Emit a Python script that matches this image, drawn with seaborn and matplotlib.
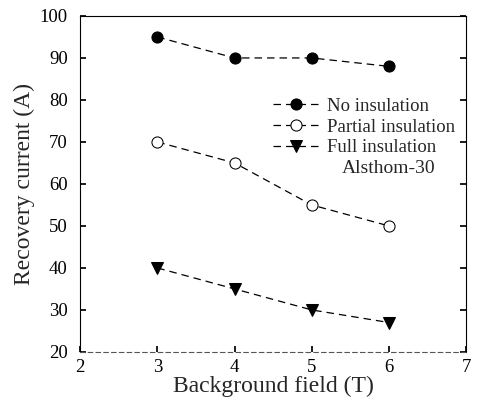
import matplotlib
matplotlib.use("Agg")
import matplotlib.pyplot as plt
import seaborn as sns
import pandas as pd

field = [3, 4, 5, 6]
no_insulation = [95, 90, 90, 88]
partial_insulation = [70, 65, 55, 50]
full_insulation = [40, 35, 30, 27]
series_names = ["No insulation", "Partial insulation", "Full insulation"]
x_ticks = [2, 3, 4, 5, 6, 7]
y_ticks = [20, 30, 40, 50, 60, 70, 80, 90, 100]

sns.set_theme(style="ticks")
plt.rcParams['font.family'] = ['Liberation Serif', 'DejaVu Serif']

fig = plt.figure(figsize=(4.8, 3.99), dpi=100)
ax = fig.add_axes([0.167, 0.118, 0.804, 0.842])

styles = [
    dict(marker="o", markerfacecolor="black", markeredgecolor="black", markersize=8),
    dict(marker="o", markerfacecolor="white", markeredgecolor="black", markersize=8),
    dict(marker="v", markerfacecolor="black", markeredgecolor="black", markersize=8),
]
for name, vals, st in zip(series_names, [no_insulation, partial_insulation, full_insulation], styles):
    df = pd.DataFrame({"x": field, "y": vals})
    sns.lineplot(data=df, x="x", y="y", ax=ax, color="black", linewidth=0.9,
                 linestyle=(0, (6, 4)), label=name, **st)

ax.set_xlim(2, 7)
ax.set_ylim(20, 100)
ax.set_xticks(x_ticks)
ax.set_yticks(y_ticks)
ax.tick_params(direction="in", length=4, labelsize=13.5, colors="black")
ax.tick_params(axis="y", right=True, pad=9)
ax.tick_params(axis="x", pad=5)
for s in ax.spines.values():
    s.set_linewidth(0.8)
    s.set_color("black")
ax.spines["bottom"].set_linestyle((0, (4, 3)))
ax.spines["bottom"].set_color("#555555")

ax.set_xlabel("Background field (T)", fontsize=17, labelpad=0)
ax.set_ylabel("Recovery current (A)", fontsize=17, labelpad=3)

leg = ax.legend(loc="upper left", bbox_to_anchor=(0.5, 0.757), frameon=False,
                fontsize=13.5, handlelength=2.4, handletextpad=0.5, labelspacing=0.2,
                borderaxespad=0.0, borderpad=0.0)
ax.text(0.80, 0.545, "Alsthom-30", transform=ax.transAxes, fontsize=14,
        ha="center", va="center")

fig.savefig("out.png", dpi=100)
